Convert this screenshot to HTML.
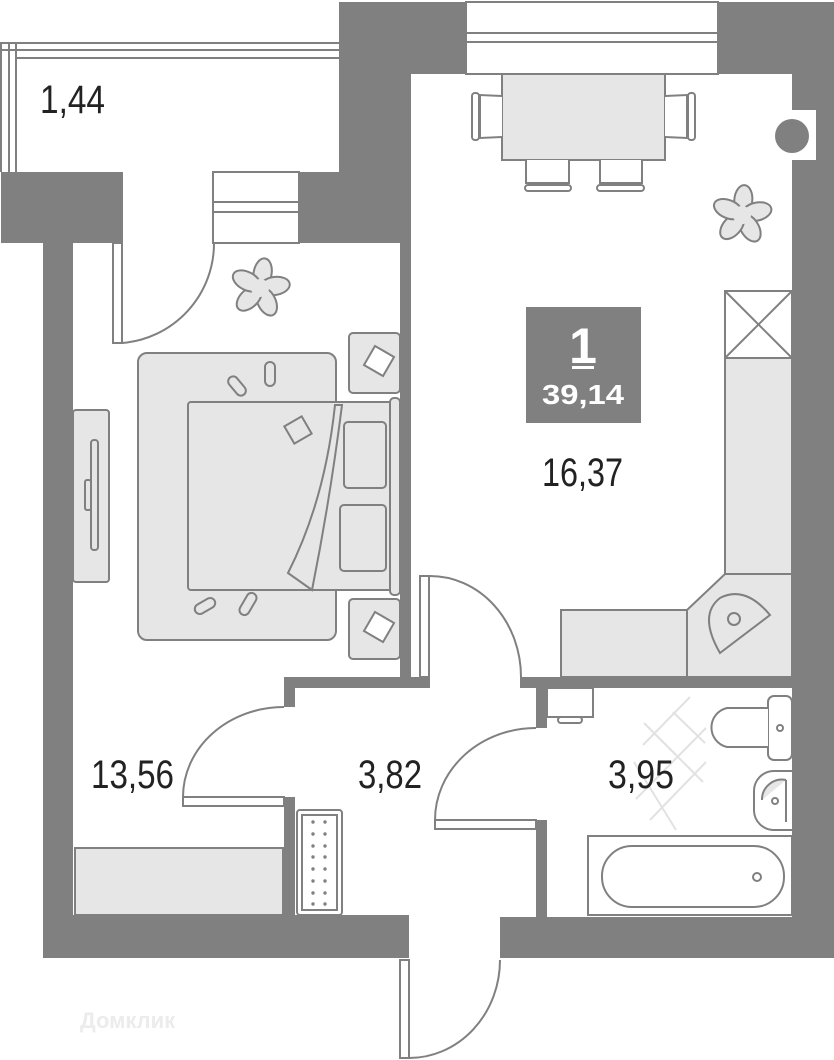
<!DOCTYPE html>
<html><head><meta charset="utf-8"><style>
html,body{margin:0;padding:0;background:#fff;}
svg{display:block;}
text{font-family:"Liberation Sans",sans-serif;}
</style></head><body>
<svg width="834" height="1060" viewBox="0 0 834 1060" xmlns="http://www.w3.org/2000/svg">
<defs>
<g id="fl" fill="#e6e6e6" stroke="#808080" stroke-width="2">
<ellipse cx="0" cy="-15" rx="9" ry="15"/>
<ellipse cx="0" cy="-15" rx="9" ry="15" transform="rotate(72)"/>
<ellipse cx="0" cy="-15" rx="9" ry="15" transform="rotate(144)"/>
<ellipse cx="0" cy="-15" rx="9" ry="15" transform="rotate(216)"/>
<ellipse cx="0" cy="-15" rx="9" ry="15" transform="rotate(288)"/>
<circle r="9" stroke="none"/>
</g>
</defs>
<g fill="#808080">
<rect x="339" y="2" width="127" height="72"/>
<rect x="339" y="2" width="72" height="241"/>
<rect x="300" y="172" width="111" height="71"/>
<rect x="400" y="243" width="11" height="437"/>
<rect x="718" y="2" width="116" height="72"/>
<rect x="792" y="2" width="42" height="956"/>
<rect x="1" y="172" width="122" height="71"/>
<rect x="43" y="172" width="30" height="786"/>
<rect x="43" y="915" width="366" height="43"/>
<rect x="500" y="917" width="334" height="41"/>
<rect x="284" y="677" width="146" height="11"/>
<rect x="284" y="677" width="11" height="30"/>
<rect x="284" y="797" width="11" height="120"/>
<rect x="520" y="677" width="272" height="11"/>
<rect x="536" y="677" width="11" height="51"/>
<rect x="536" y="820" width="11" height="97"/>
</g>
<rect x="792" y="110" width="24" height="50" fill="#fff"/>
<circle cx="792" cy="136" r="17" fill="#808080"/>
<g fill="none" stroke="#808080" stroke-width="2">
<line x1="0" y1="43" x2="339" y2="43"/><line x1="0" y1="50" x2="339" y2="50"/><line x1="17" y1="58" x2="339" y2="58"/>
<line x1="1" y1="43" x2="1" y2="172"/><line x1="9" y1="43" x2="9" y2="172"/><line x1="16" y1="43" x2="16" y2="172"/>
<rect x="466" y="2" width="252" height="72" fill="#fff"/>
<line x1="466" y1="33" x2="718" y2="33"/><line x1="466" y1="42" x2="718" y2="42"/>
<rect x="213" y="172" width="86" height="71" fill="#fff"/>
<line x1="213" y1="202" x2="299" y2="202"/><line x1="213" y1="212" x2="299" y2="212"/>
<rect x="113" y="243" width="9" height="100" fill="#fff"/>
<path d="M214 243 A100 100 0 0 1 122 343"/>
<rect x="420" y="576" width="9" height="101" fill="#fff"/>
<path d="M430 576 A91 101 0 0 1 521 677"/>
<rect x="183" y="797" width="101" height="9" fill="#fff"/>
<path d="M284 707 A101 90 0 0 0 183 797"/>
<rect x="435" y="820" width="101" height="9" fill="#fff"/>
<path d="M536 728 A101 92 0 0 0 435 820"/>
<rect x="400" y="960" width="9" height="98" fill="#fff"/>
<path d="M500 960 A91 98 0 0 1 409 1058"/>
</g>
<g stroke="#808080" stroke-width="2" fill="#e6e6e6">
<rect x="502" y="74" width="163" height="86"/>
<path d="M502 96 L480 95 L480 138 L502 137" fill="#fff"/><rect x="472" y="93" width="7" height="47" rx="3" fill="#fff"/>
<path d="M665 96 L687 95 L687 138 L665 137" fill="#fff"/><rect x="688" y="93" width="7" height="47" rx="3" fill="#fff"/>
<path d="M526 160 L526 183 L569 183 L569 160" fill="#fff"/><rect x="525" y="185" width="46" height="6" rx="3" fill="#fff"/>
<path d="M600 160 L600 183 L642 183 L642 160" fill="#fff"/><rect x="597" y="185" width="47" height="6" rx="3" fill="#fff"/>
<rect x="725" y="291" width="67" height="67" fill="#fff"/>
<line x1="725" y1="291" x2="792" y2="358"/><line x1="792" y1="291" x2="725" y2="358"/>
<rect x="725" y="358" width="67" height="216"/>
<path d="M687 610 L725 574 L792 574 L792 677 L687 677 Z"/>
<rect x="561" y="610" width="126" height="67"/>
<path d="M720 653 L770 615 Q745 585 720 598 Q698 615 720 653 Z"/>
<circle cx="734" cy="619" r="6"/>
<rect x="73" y="410" width="36" height="172" rx="3"/>
<rect x="91" y="440" width="7" height="110" rx="3"/>
<rect x="85" y="480" width="6" height="30" rx="2"/>
<rect x="138" y="353" width="198" height="287" rx="9"/>
<rect x="188" y="402" width="205" height="188" rx="3"/>
<path d="M335 405 Q325 500 288 573 L312 590 Q330 500 342 405 Z" fill="#e6e6e6"/>
<rect x="344" y="422" width="42" height="66" rx="4"/>
<rect x="340" y="505" width="46" height="66" rx="4"/>
<rect x="390" y="398" width="10" height="197" rx="4"/>
<rect x="288" y="420" width="20" height="20" transform="rotate(-30 298 430)"/>
<rect x="232" y="375" width="10" height="22" rx="5" transform="rotate(-40 237 386)"/>
<rect x="265" y="362" width="10" height="24" rx="5"/>
<rect x="200" y="595" width="10" height="22" rx="5" transform="rotate(60 205 606)"/>
<rect x="243" y="592" width="10" height="24" rx="5" transform="rotate(30 248 604)"/>
<rect x="349" y="333" width="51" height="60" rx="4"/>
<rect x="349" y="599" width="51" height="60" rx="4"/>
<rect x="368" y="350" width="22" height="22" transform="rotate(30 379 361)" fill="#fff"/>
<rect x="368" y="616" width="22" height="22" transform="rotate(30 379 627)" fill="#fff"/>
<rect x="75" y="848" width="208" height="67"/>
<rect x="297" y="810" width="45" height="105" rx="3" fill="#fff"/>
<rect x="302" y="815" width="35" height="95" fill="#fff"/>
<rect x="547" y="688" width="46" height="29" fill="#fff"/>
<rect x="558" y="717" width="24" height="6" rx="3" fill="#fff"/>
<rect x="588" y="836" width="204" height="79" fill="#fff"/>
<rect x="602" y="846" width="182" height="61" rx="30" fill="#fff"/>
<circle cx="757" cy="877" r="4" fill="#fff"/>
<rect x="768" y="696" width="24" height="64" rx="6" fill="#fff"/>
<path d="M768 708 L727 708 A20 20 0 0 0 727 747 L768 747" fill="#fff"/>
<circle cx="780" cy="728" r="3" fill="#fff"/>
<path d="M792 771 L773 771 A20 20 0 0 0 754 791 L754 811 A20 20 0 0 0 773 830 L792 830" fill="#fff"/>
<path d="M786 780 L786 822 M786 780 A20 20 0 0 0 762 800"/>
<circle cx="775" cy="801" r="3" fill="#fff"/>
</g>
<g fill="#808080">
<circle cx="313" cy="822" r="1.7"/><circle cx="325" cy="822" r="1.7"/>
<circle cx="313" cy="834" r="1.7"/><circle cx="325" cy="834" r="1.7"/>
<circle cx="313" cy="846" r="1.7"/><circle cx="325" cy="846" r="1.7"/>
<circle cx="313" cy="857" r="1.7"/><circle cx="325" cy="857" r="1.7"/>
<circle cx="313" cy="869" r="1.7"/><circle cx="325" cy="869" r="1.7"/>
<circle cx="313" cy="881" r="1.7"/><circle cx="325" cy="881" r="1.7"/>
<circle cx="313" cy="893" r="1.7"/><circle cx="325" cy="893" r="1.7"/>
<circle cx="313" cy="904" r="1.7"/><circle cx="325" cy="904" r="1.7"/>
</g>
<g stroke="#e2e2e2" stroke-width="2">
<line x1="643" y1="745" x2="690" y2="697"/><line x1="636" y1="799" x2="706" y2="728"/>
<line x1="650" y1="820" x2="706" y2="762"/>
<line x1="644" y1="723" x2="703" y2="782"/><line x1="634" y1="762" x2="676" y2="830"/><line x1="673" y1="712" x2="705" y2="743"/>
</g>
<use href="#fl" transform="translate(260,288) rotate(10)"/>
<use href="#fl" transform="translate(742,215) rotate(5)"/>
<rect x="526" y="307" width="115" height="116" fill="#808080"/>
<text x="583" y="363" fill="#fff" font-size="50" font-weight="bold" text-anchor="middle">1</text>
<rect x="572" y="366" width="22" height="3" fill="#fff"/>
<text x="583" y="404" fill="#fff" font-size="28" font-weight="bold" text-anchor="middle" textLength="82" lengthAdjust="spacingAndGlyphs">39,14</text>
<g fill="#222" font-size="40">
<text x="40" y="113" textLength="65" lengthAdjust="spacingAndGlyphs">1,44</text>
<text x="542" y="486" textLength="81" lengthAdjust="spacingAndGlyphs">16,37</text>
<text x="91" y="788" textLength="83" lengthAdjust="spacingAndGlyphs">13,56</text>
<text x="358" y="788" textLength="64" lengthAdjust="spacingAndGlyphs">3,82</text>
<text x="608" y="788" textLength="66" lengthAdjust="spacingAndGlyphs">3,95</text>
</g>
<text x="80" y="1028" fill="#ececec" font-size="22" font-weight="bold">Домклик</text>
</svg>
</body></html>
